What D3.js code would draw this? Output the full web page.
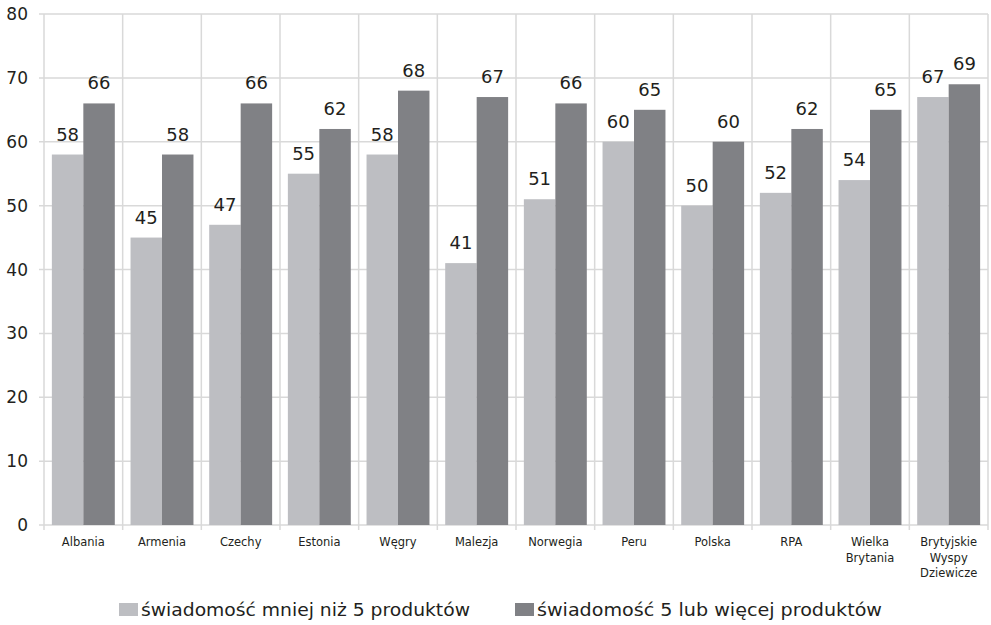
<!DOCTYPE html>
<html>
<head>
<meta charset="utf-8">
<script src="https://cdn.jsdelivr.net/npm/d3@7"></script>
<style>
  html, body { margin: 0; padding: 0; background: #ffffff; }
  svg { display: block; }
  text { font-family: "DejaVu Sans", sans-serif; fill: #231f20; }
</style>
</head>
<body>
<svg id="chart" width="991" height="625"></svg>
<script>
// Countries (line breaks split long names over several rows)
const categories = [
  "Albania", "Armenia", "Czechy", "Estonia", "Węgry", "Malezja",
  "Norwegia", "Peru", "Polska", "RPA", "Wielka\nBrytania",
  "Brytyjskie\nWyspy\nDziewicze"
];
const seriesNames = [
  "świadomość mniej niż 5 produktów",
  "świadomość 5 lub więcej produktów"
];
const lessThanFive = [58, 45, 47, 55, 58, 41, 51, 60, 50, 52, 54, 67];
const fiveOrMore   = [66, 58, 66, 62, 68, 67, 66, 65, 60, 62, 65, 69];
const yTicks = [0, 10, 20, 30, 40, 50, 60, 70, 80];

const colors = ["#bdbec2", "#808185"];
const gridColor = "#d9d9d9";

const svg = d3.select("#chart");
const plot = { left: 44, right: 988, top: 14, bottom: 525 };

const x = d3.scaleBand()
  .domain(categories)
  .range([plot.left, plot.right])
  .paddingInner(0)
  .paddingOuter(0);

const xInner = d3.scaleBand()
  .domain(seriesNames)
  .range([0, x.bandwidth()])
  .paddingInner(0)
  .paddingOuter(0.25);

const y = d3.scaleLinear()
  .domain([0, 80])
  .range([plot.bottom, plot.top]);

// Horizontal gridlines with their short ticks left of the axis
const grid = svg.append("g");
grid.selectAll("line.h")
  .data(yTicks)
  .join("line")
  .attr("class", "h")
  .attr("x1", plot.left - 5)
  .attr("x2", plot.right)
  .attr("y1", d => y(d))
  .attr("y2", d => y(d))
  .attr("stroke", gridColor)
  .attr("stroke-width", 1.5);

// Vertical separators between countries, reaching below the baseline
const bounds = categories.map(c => x(c)).concat([plot.right]);
grid.selectAll("line.v")
  .data(bounds)
  .join("line")
  .attr("class", "v")
  .attr("x1", d => d)
  .attr("x2", d => d)
  .attr("y1", plot.top)
  .attr("y2", plot.bottom + 5)
  .attr("stroke", gridColor)
  .attr("stroke-width", 1.5);

// Y axis labels
svg.append("g")
  .selectAll("text")
  .data(yTicks)
  .join("text")
  .attr("x", 28)
  .attr("y", d => y(d))
  .attr("dy", "0.36em")
  .attr("text-anchor", "end")
  .attr("font-size", 17)
  .text(d => d);

// Bars
const rows = categories.map((c, i) => ({
  cat: c,
  values: [
    { key: seriesNames[0], value: lessThanFive[i], color: colors[0] },
    { key: seriesNames[1], value: fiveOrMore[i], color: colors[1] }
  ]
}));

const groups = svg.append("g")
  .selectAll("g")
  .data(rows)
  .join("g")
  .attr("transform", d => `translate(${x(d.cat)},0)`);

groups.selectAll("rect")
  .data(d => d.values)
  .join("rect")
  .attr("x", d => xInner(d.key))
  .attr("width", xInner.bandwidth())
  .attr("y", d => y(d.value))
  .attr("height", d => y(0) - y(d.value))
  .attr("fill", d => d.color);

// Value labels above bars
groups.selectAll("text")
  .data(d => d.values)
  .join("text")
  .attr("x", d => xInner(d.key) + xInner.bandwidth() / 2)
  .attr("y", d => y(d.value) - 14)
  .attr("text-anchor", "middle")
  .attr("font-size", 18)
  .text(d => d.value);

// Category labels
const catLabels = svg.append("g")
  .selectAll("text")
  .data(categories)
  .join("text")
  .attr("x", d => x(d) + x.bandwidth() / 2)
  .attr("y", 546)
  .attr("text-anchor", "middle")
  .attr("font-size", 11.5);
catLabels.selectAll("tspan")
  .data(d => d.split("\n"))
  .join("tspan")
  .attr("x", function() { return d3.select(this.parentNode).attr("x"); })
  .attr("dy", (d, i) => i === 0 ? 0 : 15.5)
  .text(d => d);

// Legend
const legendItems = [
  { name: seriesNames[0], color: colors[0], x: 119, textEnd: 470 },
  { name: seriesNames[1], color: colors[1], x: 515, textEnd: 882 }
];
const legend = svg.append("g")
  .selectAll("g")
  .data(legendItems)
  .join("g")
  .attr("transform", d => `translate(${d.x},0)`);
legend.append("rect")
  .attr("x", 0)
  .attr("y", 603)
  .attr("width", 19)
  .attr("height", 13)
  .attr("fill", d => d.color);
legend.append("text")
  .attr("x", 22)
  .attr("y", 616)
  .attr("font-size", 18)
  .attr("textLength", d => d.textEnd - d.x - 22)
  .attr("lengthAdjust", "spacingAndGlyphs")
  .text(d => d.name);
</script>
</body>
</html>
